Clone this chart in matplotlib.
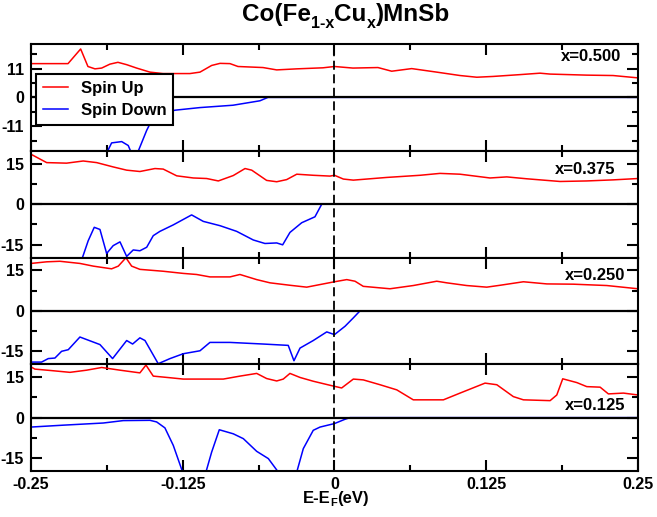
import matplotlib.pyplot as plt
from matplotlib.ticker import MultipleLocator

plt.rcParams['font.family'] = ['Liberation Sans', 'DejaVu Sans']
plt.rcParams['font.weight'] = 'bold'
plt.rcParams['axes.unicode_minus'] = False

# ---- x = 0.500 ----
x500_up = [-0.25, -0.2195, -0.2091, -0.2031, -0.1973, -0.1918, -0.185, -0.1784, -0.1712, -0.163,
           -0.152, -0.1413, -0.1191, -0.1108, -0.1012, -0.0943, -0.0861, -0.0795, -0.0589, -0.0476,
           -0.0311, -0.0095, 0.0, 0.0152, 0.0358, 0.0471, 0.0636, 0.0842, 0.1034, 0.1172,
           0.1306, 0.1529, 0.1693, 0.1776, 0.2078, 0.2295, 0.25]
up500 = [12.9, 12.9, 18.5, 11.8, 10.9, 11.2, 12.7, 13.4, 12.5, 11.2,
         9.65, 9.1, 9.1, 9.65, 12.2, 13.0, 12.9, 11.8, 11.4, 10.5,
         10.9, 11.3, 11.8, 11.2, 11.4, 10.0, 11.0, 9.65, 8.35, 7.7,
         8.0, 8.7, 9.25, 8.9, 8.5, 8.35, 7.45]
x500_dn = [-0.1895, -0.1836, -0.1753, -0.1699, -0.1679, -0.165, -0.1617, -0.1547, -0.1506, -0.1438,
           -0.1314, -0.1108, -0.0836, -0.0614, -0.0548, 0.25]
dn500 = [-23.0, -17.4, -16.9, -18.4, -20.6, -24.0, -20.6, -12.6, -8.8, -6.2,
         -4.9, -3.9, -3.0, -1.3, 0.0, 0.0]

# ---- x = 0.375 ----
x375_up = [-0.25, -0.2371, -0.2207, -0.207, -0.1959, -0.1823, -0.1712, -0.1603, -0.1479, -0.1411,
           -0.13, -0.1163, -0.1053, -0.0957, -0.0834, -0.0737, -0.0682, -0.0559, -0.0476, -0.0394,
           -0.0311, -0.0175, -0.0037, 0.0, 0.0073, 0.0155, 0.043, 0.0705, 0.0869, 0.1034,
           0.1281, 0.1419, 0.1584, 0.1858, 0.2078, 0.2297, 0.25]
up375 = [18.5, 15.4, 15.2, 16.0, 15.4, 13.8, 12.6, 12.1, 13.2, 13.0,
         10.5, 9.7, 9.5, 8.6, 10.6, 13.2, 12.6, 8.8, 8.3, 9.1,
         11.1, 10.7, 10.4, 10.7, 9.3, 8.9, 9.9, 10.7, 11.4, 11.1,
         9.7, 10.1, 9.4, 8.4, 8.6, 9.0, 9.5]
x375_dn = [-0.2085, -0.2029, -0.1979, -0.1932, -0.1877, -0.1823, -0.1767, -0.1712, -0.1658, -0.1603,
           -0.1547, -0.1493, -0.1438, -0.1328, -0.1177, -0.1081, -0.0943, -0.0806, -0.0669, -0.0573,
           -0.0476, -0.0427, -0.0367, -0.027, -0.0161, -0.0105, 0.25]
dn375 = [-21.0, -13.6, -8.6, -9.4, -18.3, -15.4, -14.0, -19.4, -17.0, -17.3,
         -16.0, -11.7, -10.1, -7.7, -4.0, -6.4, -8.0, -10.1, -13.3, -14.6,
         -14.4, -15.1, -10.5, -6.9, -4.7, 0.0, 0.0]

# ---- x = 0.250 ----
x250_up = [-0.25, -0.2371, -0.2262, -0.2097, -0.1987, -0.1836, -0.1781, -0.1718, -0.1671, -0.1603,
           -0.1411, -0.1246, -0.1136, -0.1026, -0.0861, -0.0779, -0.0641, -0.0531, -0.0367, -0.0229,
           -0.0092, 0.0, 0.0101, 0.0169, 0.0237, 0.0457, 0.0649, 0.0842, 0.0925, 0.1089,
           0.1254, 0.1364, 0.1556, 0.1749, 0.1968, 0.2243, 0.25]
up250 = [17.6, 18.2, 18.4, 17.6, 16.6, 15.6, 16.6, 19.7, 16.6, 15.4,
         14.7, 13.9, 13.5, 12.6, 12.6, 13.5, 11.6, 10.4, 9.5, 8.8,
         10.0, 10.8, 11.6, 11.0, 9.1, 8.2, 9.4, 11.0, 10.4, 9.4,
         8.8, 9.5, 10.8, 10.0, 9.9, 9.4, 8.2]
x250_dn = [-0.25, -0.2413, -0.2358, -0.2303, -0.2248, -0.2193, -0.2097, -0.1932, -0.1828, -0.1712,
           -0.1663, -0.1603, -0.1561, -0.1452, -0.1355, -0.1246, -0.1108, -0.1026, -0.0861, -0.0587,
           -0.0381, -0.0334, -0.0284, -0.0175, -0.0064, 0.0, 0.0087, 0.0155, 0.021, 0.25]
dn250 = [-19.0, -19.0, -17.7, -17.5, -15.0, -14.4, -9.7, -12.5, -17.7, -11.0,
         -12.3, -10.0, -11.0, -19.6, -17.7, -15.9, -14.8, -11.7, -11.7, -12.3,
         -12.8, -18.5, -13.8, -11.0, -7.8, -8.8, -5.7, -2.6, 0.0, 0.0]

# ---- x = 0.125 ----
x125_up = [-0.25, -0.2468, -0.2344, -0.2179, -0.2042, -0.1918, -0.1767, -0.1603, -0.1553, -0.1493,
           -0.1355, -0.1246, -0.0916, -0.0779, -0.0641, -0.0559, -0.0476, -0.0422, -0.0367, -0.0284,
           -0.0175, -0.0037, 0.0059, 0.0155, 0.0237, 0.0375, 0.0513, 0.0649, 0.0897, 0.1034,
           0.124, 0.1337, 0.1473, 0.1556, 0.1776, 0.1831, 0.188, 0.1996, 0.2078, 0.2188,
           0.2256, 0.238, 0.25]
up125 = [18.8, 18.0, 17.5, 16.8, 17.6, 18.6, 17.6, 16.6, 19.5, 15.4,
         14.8, 14.3, 14.3, 15.4, 16.4, 14.5, 13.6, 14.3, 16.4, 14.9,
         13.5, 12.0, 11.0, 14.3, 14.0, 12.2, 10.3, 6.6, 6.6, 9.1,
         12.8, 12.2, 7.8, 6.6, 6.3, 8.4, 14.4, 13.0, 11.5, 11.3,
         8.8, 9.1, 8.4]
x125_dn = [-0.25, -0.2235, -0.1905, -0.174, -0.152, -0.1465, -0.1397, -0.1328, -0.1251, -0.1191,
           -0.1108, -0.1059, -0.1012, -0.0949, -0.0834, -0.0751, -0.0641, -0.0545, -0.0463, -0.0408,
           -0.035, -0.0311, -0.0257, -0.0175, -0.0119, 0.0, 0.0087, 0.0128, 0.25]
dn125 = [-3.5, -2.8, -2.0, -1.1, -1.0, -1.6, -3.8, -10.3, -20.2, -26.0,
         -26.0, -20.2, -12.8, -4.5, -6.0, -7.8, -12.5, -15.2, -20.2, -26.0,
         -26.0, -20.2, -11.5, -4.7, -3.5, -2.2, -0.6, 0.0, 0.0]

conc_labels = ['x=0.500', 'x=0.375', 'x=0.250', 'x=0.125']
ytick_major = [11, 15, 15, 15]
xticks = [-0.25, -0.125, 0, 0.125, 0.25]
xtick_labels = ['-0.25', '-0.125', '0', '0.125', '0.25']

panels = [
    (x500_up, up500, x500_dn, dn500, 20.4, (0.973, 0.881)),
    (x375_up, up375, x375_dn, dn375, 19.8, (0.963, 0.828)),
    (x250_up, up250, x250_dn, dn250, 19.8, (0.979, 0.835)),
    (x125_up, up125, x125_dn, dn125, 19.8, (0.979, 0.609)),
]

W, H = 657, 517
fig, axes = plt.subplots(4, 1, sharex=True, figsize=(W / 100, H / 100), dpi=100)
fig.subplots_adjust(left=31 / W, right=638 / W, top=1 - 44 / H, bottom=1 - 471 / H, hspace=0)

for i, (ax, (xu, yu, xd, yd, lim, lpos)) in enumerate(zip(axes, panels)):
    ax.plot(xu, yu, color='red', lw=1.1, label='Spin Up')
    ax.plot(xd, yd, color='blue', lw=1.1, label='Spin Down')
    ax.axhline(0, color='black', lw=1.6, zorder=3)
    ax.axvline(0, color='black', lw=1.3, dashes=(5, 2.5), zorder=4)
    ax.set_xlim(-0.25, 0.25)
    ax.set_ylim(-lim, lim)
    step = ytick_major[i]
    ax.set_yticks([-step, 0, step])
    ax.yaxis.set_minor_locator(MultipleLocator(step / 2))
    ax.xaxis.set_minor_locator(MultipleLocator(0.0625))
    ax.set_xticks(xticks)
    ax.tick_params(which='both', direction='in', top=True, right=True, width=1.5,
                   labelsize=11.5, pad=5)
    ax.tick_params(which='major', length=8)
    ax.tick_params(which='minor', length=4)
    for sp in ax.spines.values():
        sp.set_linewidth(1.5)
    ax.text(lpos[0], lpos[1], conc_labels[i], transform=ax.transAxes,
            ha='right', va='center', fontsize=12, fontweight='bold')

axes[-1].set_xticklabels(xtick_labels)
axes[-1].tick_params(axis='x', pad=4.5)

leg = axes[0].legend(loc='upper left', bbox_to_anchor=(0.008, 0.719), borderaxespad=0,
                     prop={'size': 12, 'weight': 'bold'}, fancybox=False, framealpha=1,
                     edgecolor='black', handlelength=1.5, handletextpad=0.8,
                     labelspacing=0.45, borderpad=0.4)
leg.get_frame().set_linewidth(1.5)
leg.set_zorder(10)


def text_with_subs(pieces, x_center_px, baseline_px):
    # pieces: (string, fontsize, baseline shift in px, downwards positive)
    renderer = fig.canvas.get_renderer()
    items = []
    for s, size, dy in pieces:
        t = fig.text(0, 0, s, fontsize=size, fontweight='bold', ha='left', va='baseline')
        items.append((t, t.get_window_extent(renderer).width, dy))
    x = x_center_px - sum(w for _, w, _ in items) / 2
    for t, w, dy in items:
        t.set_position((x / W, 1 - (baseline_px + dy) / H))
        x += w


text_with_subs([('Co(Fe', 17.5, 0), ('1-x', 11.5, 7.5), ('Cu', 17.5, 0),
                ('x', 11.5, 7.5), (')MnSb', 17.5, 0)], 346, 20.7)
text_with_subs([('E-E', 12, 0), ('F', 8, 3.5), ('(eV)', 12, 0)], 336, 503)

fig.savefig('out.png', dpi=100)
